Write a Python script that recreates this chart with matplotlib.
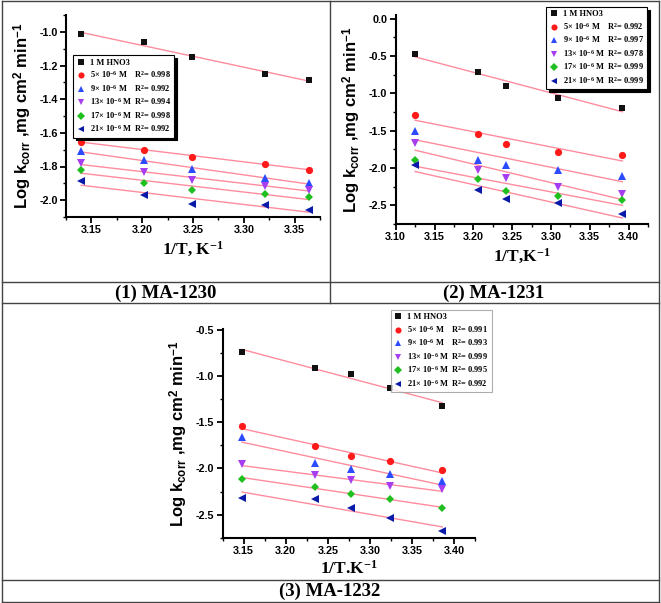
import matplotlib
matplotlib.use("Agg")
import matplotlib.pyplot as plt
import numpy as np
from matplotlib.lines import Line2D
from matplotlib.ticker import MultipleLocator

plt.rcParams["font.family"] = ["Liberation Sans", "DejaVu Sans"]
plt.rcParams["mathtext.fontset"] = "custom"
plt.rcParams["mathtext.rm"] = "Liberation Serif:bold"
plt.rcParams["mathtext.sf"] = "Liberation Sans:bold"
plt.rcParams["mathtext.default"] = "rm"

W, H = 661, 603

SERIES = ["1 M HNO3", "5", "9", "13", "17", "21"]
MARKERS = ["s", "o", "^", "v", "D", "<"]
MSIZES = [5, 5.2, 5.2, 5.2, 4.3, 5.2]
COLORS = ["#111111", "#ff1a1a", "#2b4bff", "#a63df0", "#1fbf1f", "#0a1aa8"]
FIT_COLOR = "#ff8c9e"

# panel (1) MA-1230
x1 = [3.140, 3.202, 3.249, 3.321, 3.364]
y1 = [
    [-1.014, -1.060, -1.152, -1.248, -1.286],
    [-1.652, -1.700, -1.744, -1.784, -1.818],
    [-1.710, -1.764, -1.816, -1.868, -1.900],
    [-1.782, -1.832, -1.878, -1.914, -1.940],
    [-1.820, -1.896, -1.938, -1.964, -1.984],
    [-1.884, -1.972, -2.024, -2.028, -2.060],
]
r2_1 = ["0.998", "0.992", "0.994", "0.998", "0.992"]

# panel (2) MA-1231
x2 = [3.125, 3.206, 3.242, 3.309, 3.392]
y2 = [
    [-0.475, -0.717, -0.896, -1.057, -1.196],
    [-1.286, -1.546, -1.680, -1.783, -1.832],
    [-1.505, -1.886, -1.953, -2.020, -2.110],
    [-1.662, -2.025, -2.128, -2.258, -2.343],
    [-1.895, -2.150, -2.312, -2.375, -2.424],
    [-1.958, -2.298, -2.410, -2.464, -2.620],
]
r2_2 = ["0.992", "0.997", "0.978", "0.999", "0.999"]

# panel (3) MA-1232
x3 = [3.148, 3.235, 3.277, 3.324, 3.386]
y3 = [
    [-0.743, -0.910, -0.978, -1.127, -1.326],
    [-1.543, -1.757, -1.870, -1.924, -2.022],
    [-1.663, -1.942, -2.004, -2.058, -2.141],
    [-1.957, -2.076, -2.130, -2.192, -2.228],
    [-2.112, -2.196, -2.275, -2.330, -2.432],
    [-2.315, -2.326, -2.424, -2.533, -2.678],
]
r2_3 = ["0.991", "0.993", "0.999", "0.995", "0.992"]

YLABEL = r"Log k$_{\mathsf{corr}}$ ,mg cm$^{\mathsf{2}}$ min$^{\mathsf{-1}}$"


def legend_labels(r2_values):
    labels = [SERIES[0]]
    for conc, r2 in zip(SERIES[1:], r2_values):
        gap = "    " if len(conc) == 1 else "  "
        labels.append(f"{conc}× 10$^{{-6}}$ M{gap}R$^{{2}}$= {r2}")
    return labels


def draw_panel(rect, x, ys, r2_values, xlim, ylim, xmajor, ymajor, xlabel, leg_anchor, leg_loc, shadow):
    ax = fig.add_axes(rect)
    x = np.asarray(x)
    labels = legend_labels(r2_values)
    for y, marker, ms, color, label in zip(ys, MARKERS, MSIZES, COLORS, labels):
        slope, icpt = np.polyfit(x, y, 1)
        xs = np.array([x.min(), x.max()])
        ax.plot(xs, slope * xs + icpt, color=FIT_COLOR, lw=1.0, zorder=2)
        ax.plot(x, y, linestyle="none", marker=marker, color=color, markersize=ms,
                markeredgewidth=0, label=label, zorder=3)
    ax.set_xlim(*xlim)
    ax.set_ylim(*ylim)
    ax.xaxis.set_major_locator(MultipleLocator(xmajor))
    ax.xaxis.set_minor_locator(MultipleLocator(xmajor / 2))
    ax.yaxis.set_major_locator(MultipleLocator(ymajor))
    ax.yaxis.set_minor_locator(MultipleLocator(ymajor / 2))
    ax.xaxis.set_major_formatter(plt.FormatStrFormatter("%.2f"))
    ax.yaxis.set_major_formatter(plt.FormatStrFormatter("%.1f"))
    for side in ("top", "right"):
        ax.spines[side].set_visible(False)
    for side in ("left", "bottom"):
        ax.spines[side].set_linewidth(1.5)
    ax.tick_params(which="major", direction="out", length=4, width=1.3, labelsize=7.8, pad=2)
    ax.tick_params(which="minor", direction="out", length=2.5, width=1.0)
    for lab in ax.get_xticklabels() + ax.get_yticklabels():
        lab.set_fontweight("bold")
    ax.set_ylabel(YLABEL, fontsize=12, fontweight="bold", labelpad=4)
    ax.set_xlabel(xlabel, fontsize=12.5, fontweight="bold", family="Liberation Serif", labelpad=3)
    leg = ax.legend(loc=leg_loc, bbox_to_anchor=leg_anchor,
                    prop={"family": "Liberation Serif", "weight": "bold", "size": 6},
                    frameon=True, fancybox=False, borderpad=0.4, labelspacing=0.3,
                    handletextpad=0.5, handlelength=1.1, borderaxespad=0, markerscale=0.85,
                    shadow={"color": "black", "alpha": 1} if shadow else False)
    frame = leg.get_frame()
    frame.set_edgecolor("black" if shadow else "#999999")
    frame.set_linewidth(0.8)
    return ax


fig = plt.figure(figsize=(W / 100, H / 100), dpi=100)
fig.patch.set_facecolor("white")

draw_panel([66 / W, 1 - 217 / H, 254 / W, 202 / H], x1, y1, r2_1,
           (3.125, 3.375), (-2.1, -0.9), 0.05, 0.2, "1/T, K$^{-1}$",
           (0.028, 0.80), "upper left", True)
draw_panel([395.7 / W, 1 - 224 / H, 252.3 / W, 209 / H], x2, y2, r2_2,
           (3.10, 3.425), (-2.75, 0.05), 0.05, 0.5, "1/T,K$^{-1}$",
           (0.996, 1.038), "upper right", True)
draw_panel([222.7 / W, 1 - 537.7 / H, 252.3 / W, 208.7 / H], x3, y3, r2_3,
           (3.125, 3.425), (-2.75, -0.49), 0.05, 0.5, "1/T.K$^{-1}$",
           (1.066, 1.091), "upper right", False)

# table frame around the panels
grid = fig.add_axes([0, 0, 1, 1], zorder=-1)
grid.set_xlim(0, W)
grid.set_ylim(H, 0)
grid.axis("off")
line_kw = dict(color="#444444", lw=1.0)
for yy in (1, 282, 303, 580, 602):
    grid.add_line(Line2D([2, 659], [yy, yy], **line_kw))
for xx in (2, 659):
    grid.add_line(Line2D([xx, xx], [1, 602], **line_kw))
grid.add_line(Line2D([330, 330], [1, 303], **line_kw))

cap_kw = dict(ha="center", va="center", fontsize=13.5, fontweight="bold", family="Liberation Serif")
fig.text(166 / W, 1 - 293 / H, "(1) MA-1230", **cap_kw)
fig.text(494 / W, 1 - 293 / H, "(2) MA-1231", **cap_kw)
fig.text(330 / W, 1 - 591 / H, "(3) MA-1232", **cap_kw)

fig.savefig("out.png", dpi=100)
